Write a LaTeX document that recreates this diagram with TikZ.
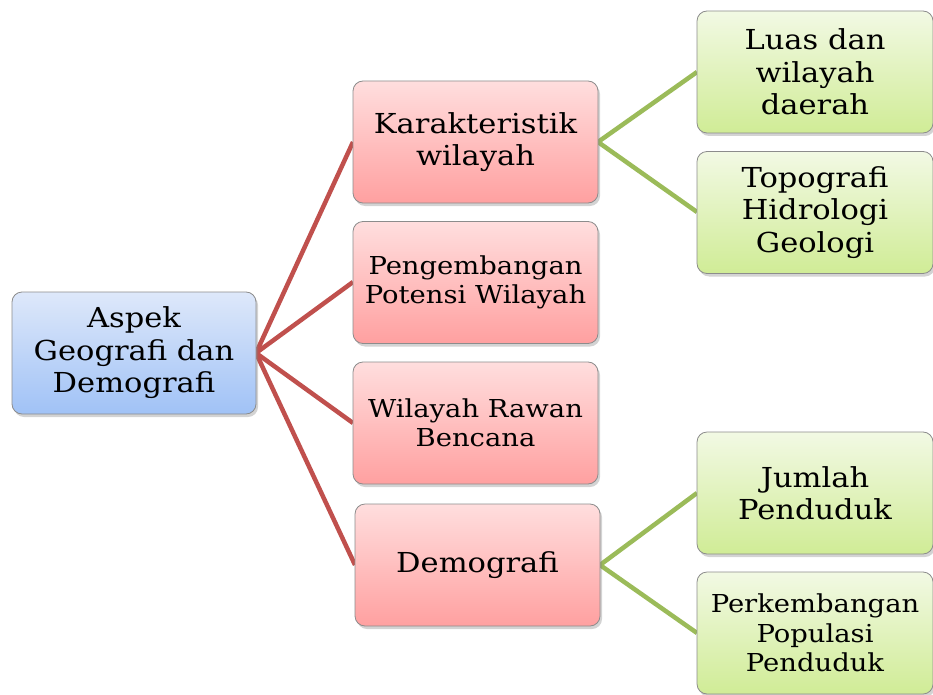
\documentclass[tikz,border=0pt]{standalone}
\usepackage{fontspec}
\setmainfont[FakeStretch=1.11]{DejaVu Serif}
\usetikzlibrary{shadows}
\definecolor{redline}{RGB}{192,80,77}
\definecolor{greenline}{RGB}{155,187,89}
\definecolor{bluetop}{RGB}{222,232,250}
\definecolor{bluebot}{RGB}{160,194,246}
\definecolor{redtop}{RGB}{255,222,222}
\definecolor{redbot}{RGB}{255,160,160}
\definecolor{greentop}{RGB}{242,249,228}
\definecolor{greenbot}{RGB}{208,236,150}
\definecolor{boxborder}{RGB}{140,140,140}
\tikzset{
  basebox/.style={draw=boxborder, line width=0.8pt, rounded corners=10pt,
    align=center, inner sep=0pt, minimum height=122pt,
    drop shadow={opacity=0.35, shadow xshift=2pt, shadow yshift=-3pt}},
  rootbox/.style={basebox, minimum width=244pt, top color=bluetop, bottom color=bluebot},
  redbox/.style={basebox, minimum width=245pt, top color=redtop, bottom color=redbot},
  greenbox/.style={basebox, minimum width=236pt, top color=greentop, bottom color=greenbot},
  big/.style={font=\fontsize{27.5}{32.5}\selectfont},
  small/.style={font=\fontsize{24.7}{29.5}\selectfont},
  redlink/.style={draw=redline, line width=4.5pt},
  greenlink/.style={draw=greenline, line width=4.5pt}
}
\begin{document}
\begin{tikzpicture}[x=1pt,y=-1pt]
\useasboundingbox (0,0) rectangle (933,695);
% connectors first (behind boxes)
\coordinate (rootR) at (256,353);
\coordinate (kL) at (353,142);
\coordinate (pL) at (353,282);
\coordinate (wL) at (353,423);
\coordinate (dL) at (355,565);
\coordinate (kR) at (598,142);
\coordinate (dR) at (600,565);
\coordinate (lL) at (697,72);
\coordinate (tL) at (697,212);
\coordinate (jL) at (697,493);
\coordinate (ppL) at (697,633);
\draw[redlink] (rootR) -- (kL);
\draw[redlink] (rootR) -- (pL);
\draw[redlink] (rootR) -- (wL);
\draw[redlink] (rootR) -- (dL);
\draw[greenlink] (kR) -- (lL);
\draw[greenlink] (kR) -- (tL);
\draw[greenlink] (dR) -- (jL);
\draw[greenlink] (dR) -- (ppL);
% boxes
\node[rootbox, big] (root) at (134,353) {Aspek\\Geografi dan\\Demografi};
\node[redbox, big] (kar) at (475.5,142) {Karakteristik\\wilayah};
\node[redbox, small] (peng) at (475.5,282.5) {Pengembangan\\Potensi Wilayah};
\node[redbox, small] (rawan) at (475.5,423) {Wilayah Rawan\\Bencana};
\node[redbox, big] (demo) at (477.5,565) {Demografi};
\node[greenbox, big] (luas) at (815,72) {Luas dan\\wilayah\\daerah};
\node[greenbox, big] (topo) at (815,212.5) {Topografi\\Hidrologi\\Geologi};
\node[greenbox, big] (jum) at (815,493) {Jumlah\\Penduduk};
\node[greenbox, small] (perk) at (815,633) {Perkembangan\\Populasi\\Penduduk};
\end{tikzpicture}
\end{document}
